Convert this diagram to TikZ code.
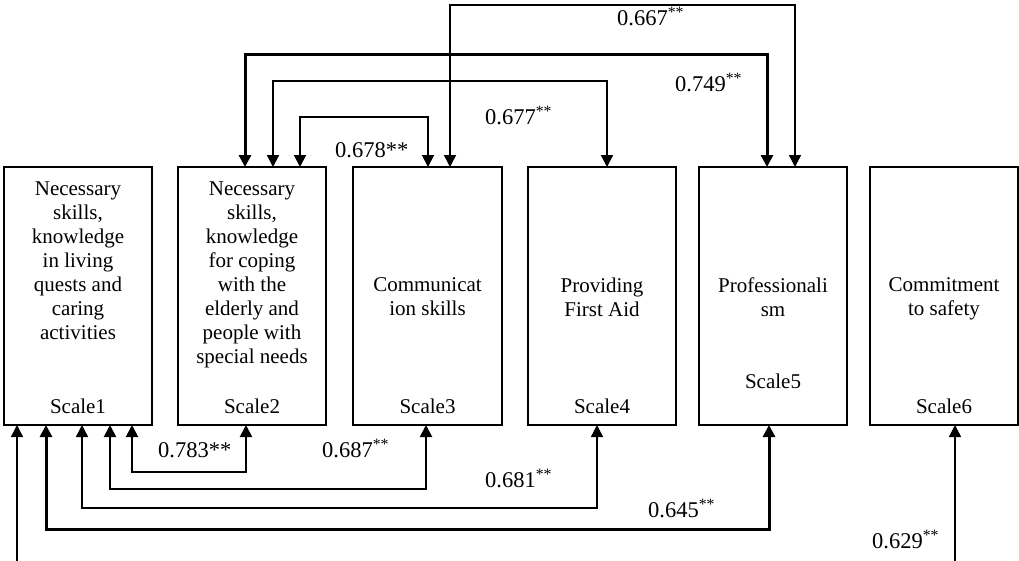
\documentclass[tikz,border=0pt]{standalone}
\usepackage{fontspec}
\setmainfont{Liberation Serif}
\usetikzlibrary{arrows.meta}
\begin{document}
\begin{tikzpicture}[x=1pt,y=-1pt,
  scalebox/.style={draw,line width=1.5pt,minimum width=148pt,minimum height=258pt,inner sep=0pt,outer sep=0pt},
  boxtext/.style={align=center,inner sep=0pt,font=\fontsize{21}{24}\selectfont},
  lbl/.style={anchor=base west,inner sep=0pt,font=\fontsize{22.5}{26}\selectfont},
  conn/.style={{Triangle[width=12pt,length=12pt]}-{Triangle[width=12pt,length=12pt]},line join=miter},
  thinc/.style={conn,line width=1.4pt},
  midc/.style={conn,line width=2pt},
  thickc/.style={conn,line width=3pt}]
\useasboundingbox (0,0) rectangle (1019,560);
% boxes
\node[scalebox] (s1) at (78,296) {};
\node[scalebox] (s2) at (252,296) {};
\node[scalebox,minimum width=149pt] (s3) at (427.5,296) {};
\node[scalebox] (s4) at (602,296) {};
\node[scalebox] (s5) at (773,296) {};
\node[scalebox] (s6) at (944,296) {};
% box texts
\node[boxtext] (t1) at (78,260.5) {Necessary\\skills,\\knowledge\\in living\\quests and\\caring\\activities};
\node[boxtext] (t2) at (252,274.5) {Necessary\\skills,\\knowledge\\for coping\\with the\\elderly and\\people with\\special needs};
\node[boxtext] (t3) at (427.5,297) {Communicat\\ion skills};
\node[boxtext] (t4) at (602,297) {Providing\\First Aid};
\node[boxtext] (t5) at (773,297) {Professionali\\sm};
\node[boxtext] (t6) at (944,299) {Commitment\\to safety};
\node[boxtext] (c1) at (78,406) {Scale1};
\node[boxtext] (c2) at (252,406) {Scale2};
\node[boxtext] (c3) at (427.5,406) {Scale3};
\node[boxtext] (c4) at (602,406) {Scale4};
\node[boxtext] (c5) at (773,381) {Scale5};
\node[boxtext] (c6) at (944,406) {Scale6};
% top connector end points
\coordinate (a1) at ([xshift=22.5pt]s3.north);
\coordinate (a2) at ([xshift=22pt]s5.north);
\coordinate (ha) at (0,5);
\coordinate (b1) at ([xshift=-7pt]s2.north);
\coordinate (b2) at ([xshift=-6pt]s5.north);
\coordinate (hb) at (0,54);
\coordinate (d1) at ([xshift=21pt]s2.north);
\coordinate (d2) at ([xshift=5pt]s4.north);
\coordinate (hc) at (0,81);
\coordinate (e1) at ([xshift=48pt]s2.north);
\coordinate (e2) at ([xshift=0.5pt]s3.north);
\coordinate (hd) at (0,117);
% bottom connector end points
\coordinate (f1) at ([xshift=54pt]s1.south);
\coordinate (f2) at ([xshift=-6pt]s2.south);
\coordinate (he) at (0,472);
\coordinate (g1) at ([xshift=32pt]s1.south);
\coordinate (g2) at ([xshift=-1.5pt]s3.south);
\coordinate (hf) at (0,489);
\coordinate (k1) at ([xshift=4pt]s1.south);
\coordinate (k2) at ([xshift=-5pt]s4.south);
\coordinate (hg) at (0,508);
\coordinate (m1) at ([xshift=-32pt]s1.south);
\coordinate (m2) at ([xshift=-4pt]s5.south);
\coordinate (hh) at (0,529);
\coordinate (n1) at ([xshift=-61pt]s1.south);
\coordinate (n2) at ([xshift=11pt]s6.south);
\coordinate (hi) at (0,562);
% connectors
\draw[thickc] (b1) -- (b1 |- hb) -| (b2);
\draw[midc] (d1) -- (d1 |- hc) -| (d2);
\draw[midc] (e1) -- (e1 |- hd) -| (e2);
\draw[thinc] (a1) -- (a1 |- ha) -| (a2);
\draw[midc] (f1) -- (f1 |- he) -| (f2);
\draw[midc] (g1) -- (g1 |- hf) -| (g2);
\draw[thinc] (k1) -- (k1 |- hg) -| (k2);
\draw[thickc] (m1) -- (m1 |- hh) -| (m2);
\draw[thinc] (n1) -- (n1 |- hi) -| (n2);
% labels
\node[lbl] (l667) at (617,25) {0.667\textsuperscript{**}};
\node[lbl] (l749) at (675,91) {0.749\textsuperscript{**}};
\node[lbl] (l677) at (485,124) {0.677\textsuperscript{**}};
\node[lbl] (l678) at (335,157) {0.678**};
\node[lbl] (l783) at (158,457) {0.783**};
\node[lbl] (l687) at (322,457) {0.687\textsuperscript{**}};
\node[lbl] (l681) at (485,487) {0.681\textsuperscript{**}};
\node[lbl] (l645) at (648,517) {0.645\textsuperscript{**}};
\node[lbl] (l629) at (872,548) {0.629\textsuperscript{**}};
\end{tikzpicture}
\end{document}
